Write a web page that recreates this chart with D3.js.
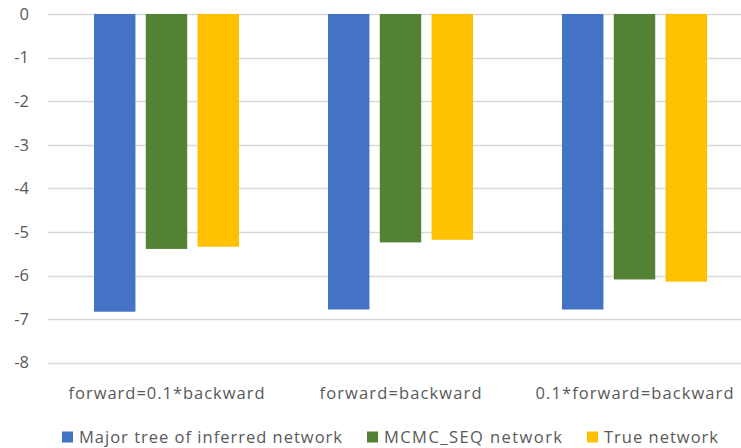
<!DOCTYPE html>
<html>
<head>
<meta charset="utf-8">
<script src="https://cdn.jsdelivr.net/npm/d3@7"></script>
<style>
  html, body { margin: 0; padding: 0; background: #fff; }
  svg { display: block; font-family: "Open Sans", "Noto Sans", sans-serif; }
</style>
</head>
<body>
<svg id="chart" width="741" height="448"></svg>
<script>
// Scenario categories along the x axis
const categories = ["forward=0.1*backward", "forward=backward", "0.1*forward=backward"];
// Series names (legend order)
const seriesNames = ["Major tree of inferred network", "MCMC_SEQ network", "True network"];
// Values per series, one per category
const majorTree = [-6.83, -6.78, -6.78];
const mcmcSeq = [-5.39, -5.24, -6.09];
const trueNet = [-5.34, -5.18, -6.14];
const yTicks = [0, -1, -2, -3, -4, -5, -6, -7, -8];
const colors = ["#4472C4", "#548235", "#FFC000"];

const seriesValues = [majorTree, mcmcSeq, trueNet];

const svg = d3.select("#chart");
const textColor = "#595959";

const y = d3.scaleLinear().domain([-8, 0]).range([362.7, 14]);
const x0 = d3.scaleBand().domain(categories).range([49.5, 751.5]).padding(0);
const x1 = d3.scaleBand().domain(d3.range(seriesNames.length))
  .range([44.5, 189.5]).paddingInner(0.2).paddingOuter(0);

// Horizontal gridlines
svg.append("g")
  .selectAll("line")
  .data(yTicks)
  .join("line")
  .attr("x1", 48).attr("x2", 741)
  .attr("y1", d => Math.round(y(d)) + 0.5)
  .attr("y2", d => Math.round(y(d)) + 0.5)
  .attr("stroke", "#d9d9d9")
  .attr("stroke-width", 1.3);

// Y axis labels
const yAxis = d3.axisLeft(y).tickValues(yTicks).tickSize(0).tickPadding(0)
  .tickFormat(d => d === 0 ? "0" : "-" + Math.abs(d));
const gy = svg.append("g").attr("transform", "translate(29,0)").call(yAxis);
gy.select(".domain").remove();
gy.selectAll("text")
  .attr("fill", textColor)
  .style("font-size", "16.5px")
  .style("font-family", "'Open Sans', 'Noto Sans', sans-serif");

// Bars hanging down from zero
const groups = svg.append("g")
  .selectAll("g")
  .data(categories)
  .join("g")
  .attr("transform", d => `translate(${x0(d)},0)`);

groups.selectAll("rect")
  .data((c, ci) => seriesValues.map((vals, si) => ({ si, v: vals[ci] })))
  .join("rect")
  .attr("x", d => x1(d.si))
  .attr("width", x1.bandwidth())
  .attr("y", d => y(0))
  .attr("height", d => y(d.v) - y(0))
  .attr("fill", d => colors[d.si]);

// Category labels
svg.append("g")
  .selectAll("text")
  .data(categories)
  .join("text")
  .attr("x", d => x0(d) + 117)
  .attr("y", 399)
  .attr("text-anchor", "middle")
  .attr("fill", textColor)
  .style("font-size", "16.5px")
  .attr("textLength", (d, i) => [196, 162, 198][i])
  .attr("lengthAdjust", "spacing")
  .text(d => d);

// Legend
const legendX = [62, 367, 587];
const legendTextLen = [263, 178, 114];
const legend = svg.append("g")
  .selectAll("g")
  .data(seriesNames)
  .join("g")
  .attr("transform", (d, i) => `translate(${legendX[i]},0)`);
legend.append("rect")
  .attr("x", 0).attr("y", 431.5)
  .attr("width", 11).attr("height", 11)
  .attr("fill", (d, i) => colors[i]);
legend.append("text")
  .attr("x", 17).attr("y", 443)
  .attr("fill", textColor)
  .style("font-size", "16.5px")
  .attr("textLength", (d, i) => legendTextLen[i])
  .attr("lengthAdjust", "spacing")
  .text(d => d);
</script>
</body>
</html>
